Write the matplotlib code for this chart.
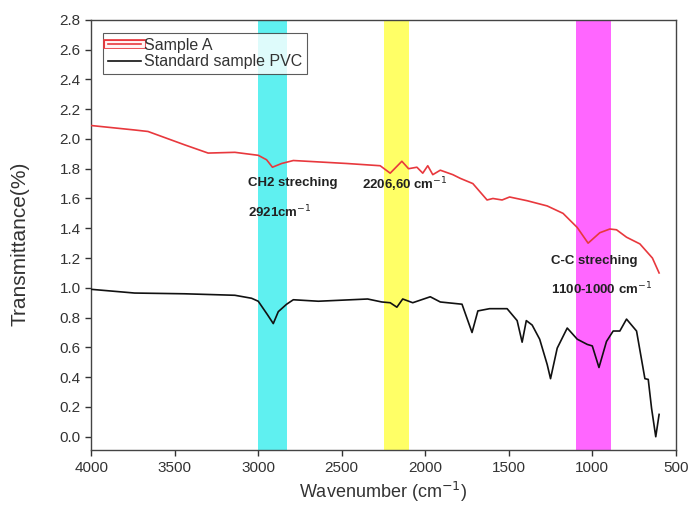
import matplotlib
matplotlib.use('Agg')
import matplotlib.pyplot as plt
import matplotlib.patheffects as pe

plt.rcParams['font.family'] = ['Liberation Sans', 'DejaVu Sans']

# Sample A (red)
wn_a = [4000, 3740, 3660, 3440, 3300, 3140, 3000, 2950, 2915, 2860,
        2790, 2470, 2270, 2210, 2140, 2100, 2050, 2015, 1985, 1955,
        1910, 1835, 1790, 1715, 1630, 1595, 1540, 1495, 1390, 1270,
        1175, 1090, 1025, 955, 895, 855, 795, 715, 640, 600]
tr_a = [2.09, 2.06, 2.05, 1.96, 1.905, 1.91, 1.89, 1.86, 1.81, 1.835,
        1.855, 1.835, 1.82, 1.77, 1.85, 1.80, 1.81, 1.77, 1.82, 1.76,
        1.79, 1.76, 1.735, 1.70, 1.59, 1.60, 1.59, 1.61, 1.585, 1.55,
        1.50, 1.405, 1.30, 1.37, 1.395, 1.39, 1.34, 1.295, 1.20, 1.10]

# Standard sample PVC (black)
wn_pvc = [4000, 3740, 3440, 3140, 3040, 3000, 2945, 2910, 2880, 2830,
          2790, 2640, 2345, 2260, 2210, 2170, 2135, 2075, 1970, 1910,
          1780, 1720, 1685, 1615, 1510, 1450, 1420, 1395, 1360, 1315,
          1270, 1250, 1210, 1150, 1090, 1030, 1000, 960, 915, 875,
          835, 795, 735, 685, 665, 645, 620, 600]
tr_pvc = [0.99, 0.965, 0.96, 0.95, 0.93, 0.91, 0.82, 0.76, 0.84, 0.89,
          0.92, 0.91, 0.925, 0.905, 0.90, 0.87, 0.925, 0.90, 0.94, 0.905,
          0.89, 0.70, 0.845, 0.86, 0.86, 0.78, 0.635, 0.78, 0.75, 0.655,
          0.485, 0.39, 0.595, 0.73, 0.655, 0.62, 0.61, 0.465, 0.64, 0.71,
          0.71, 0.79, 0.71, 0.39, 0.385, 0.19, 0.0, 0.15]

# highlighted bands (wavenumber ranges)
bands = [(3000, 2830, '#5ff0f0'), (2250, 2100, '#ffff66'), (1100, 890, '#ff66ff')]

fig = plt.figure(figsize=(6.91, 5.21), dpi=100)
ax = fig.add_axes([0.132, 0.136, 0.846, 0.826])

for lo, hi, c in bands:
    ax.axvspan(hi, lo, color=c, lw=0, zorder=0)

red = '#e8383d'
ax.plot(wn_a, tr_a, color=red, lw=1.2, label='Sample A', zorder=3)
ax.plot(wn_pvc, tr_pvc, color='#111111', lw=1.2, label='Standard sample PVC', zorder=3)

ax.set_xlim(4000, 500)
ax.set_ylim(-0.09, 2.8)
ax.set_xticks(range(4000, 499, -500))
ax.set_yticks([i * 0.2 for i in range(15)])
ax.yaxis.set_major_formatter(matplotlib.ticker.FormatStrFormatter('%.1f'))
ax.tick_params(direction='out', length=4, width=1, labelsize=11, colors='#333333')
for s in ax.spines.values():
    s.set_color('#444444')
    s.set_linewidth(1)

ax.set_xlabel('Wavenumber (cm$^{-1}$)', fontsize=13, color='#333333')
ax.set_ylabel('Transmittance(%)', fontsize=15, color='#333333')
ax.yaxis.set_label_coords(-0.105, 0.48)

leg = ax.legend(loc='upper left', bbox_to_anchor=(0.02, 0.97), fancybox=False,
                edgecolor='#333333', fontsize=11.5, handlelength=2.1,
                borderpad=0.3, labelspacing=0.12, handletextpad=0.2, borderaxespad=0,
                labelcolor='#333333')
leg.get_frame().set_linewidth(0.8)
leg.legend_handles[0].set_path_effects([pe.Stroke(linewidth=7, foreground=red),
                                        pe.Stroke(linewidth=5, foreground='#fff4f4'),
                                        pe.Normal()])

tk = dict(fontsize=9.5, fontweight='bold', color='#222222', ha='left', va='center')
ax.text(3061, 1.706, 'CH2 streching', **tk)
ax.text(3061, 1.51, '2921cm$^{-1}$', **tk)
ax.text(2379, 1.69, '2206,60 cm$^{-1}$', **tk)
ax.text(1248, 1.18, 'C-C streching', **tk)
ax.text(1248, 0.99, '1100-1000 cm$^{-1}$', **tk)

fig.savefig('out.png', dpi=100)
